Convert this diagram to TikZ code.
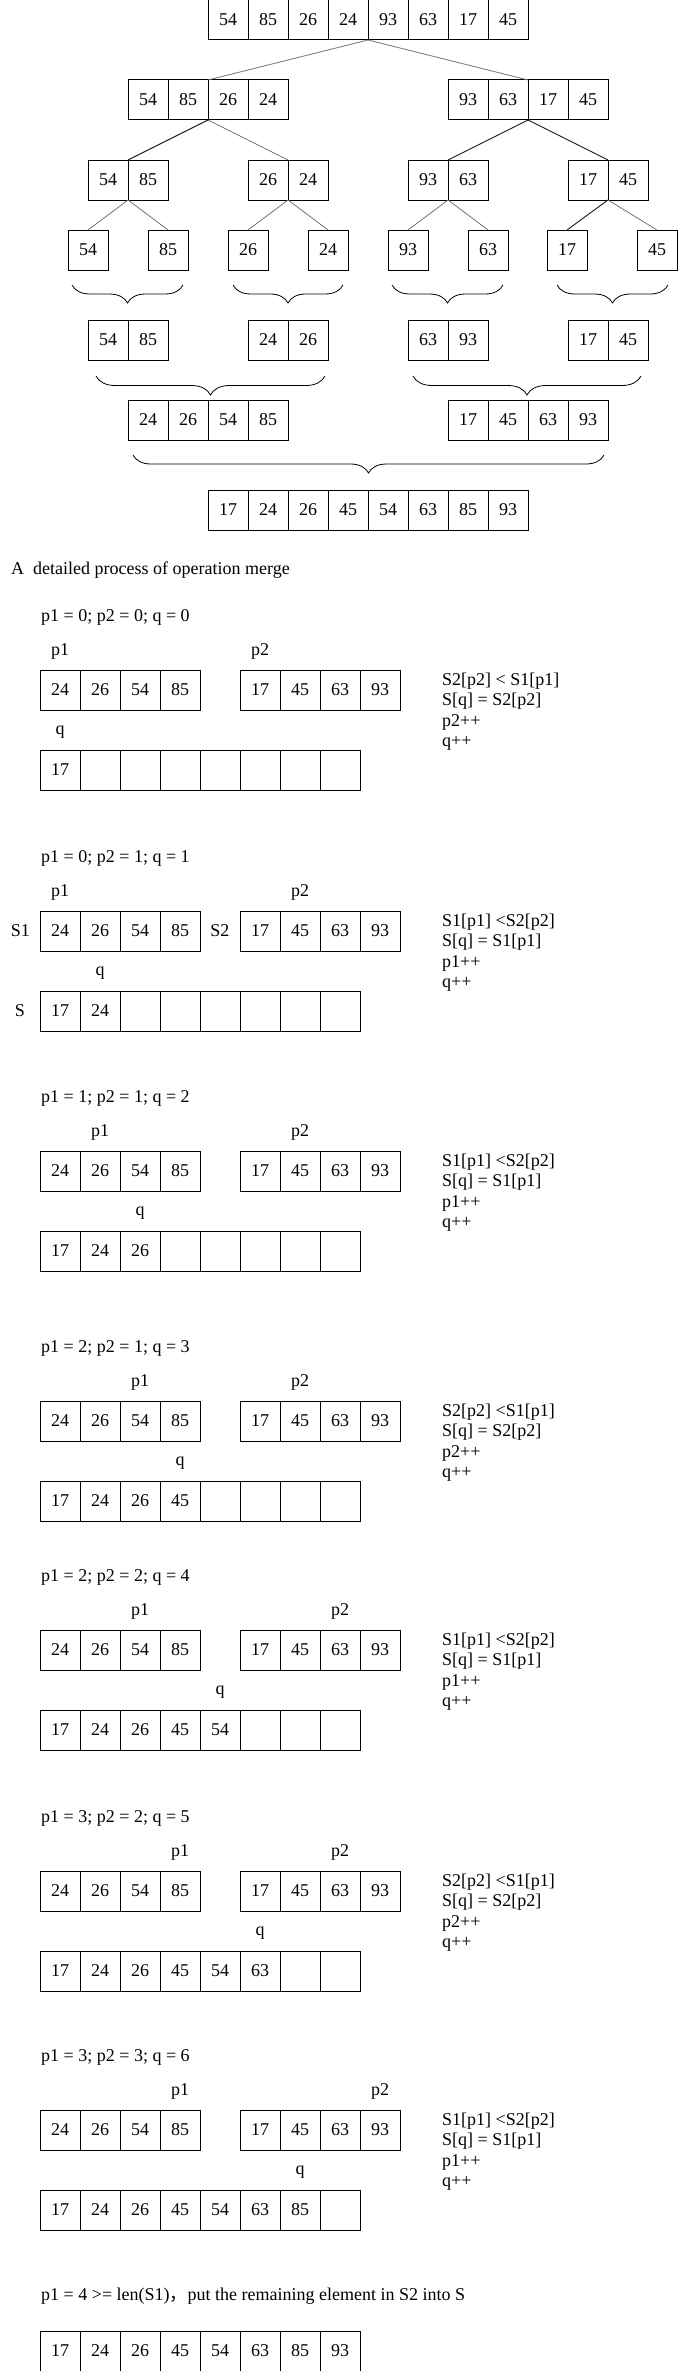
\documentclass[tikz,border=0pt]{standalone}
\usepackage{fontspec}
\setmainfont{Liberation Serif}
\newfontfamily\cjk{Noto Sans CJK SC}
\usetikzlibrary{positioning,decorations.pathreplacing}

\tikzset{
  cell/.style={draw, line width=1pt, minimum width=40pt, minimum height=40pt,
    inner sep=0pt, outer sep=0pt, anchor=north west},
  ptr/.style={inner sep=0pt},
  tag/.style={inner sep=0pt},
  title/.style={anchor=base west, inner sep=0pt},
  rule/.style={anchor=base west, inner sep=0pt},
  edge/.style={draw=black!55, line width=0.8pt},
  dark edge/.style={draw=black!90, line width=0.9pt},
  merge brace/.style={decorate, decoration={brace, mirror, amplitude=#1}, line width=0.8pt},
  merge brace/.default=18pt
}

% a row of cells: name, x, y, values
\newcommand\putcells[4]{%
  \foreach \v [count=\i] in {#4}
    \node[cell] (#1\i) at ({#2+40*(\i-1)},{#3}) {\v};
}
% one merge step: name, top, p1 cell, p2 cell, q cell, values of S
\newcommand\mergestep[6]{%
  \putcells{#1a}{40}{#2}{24,26,54,85}
  \putcells{#1b}{240}{#2}{17,45,63,93}
  \putcells{#1s}{40}{#2+80}{#6}
  \node[ptr, above=10pt of #1a#3] (#1p) {p1};
  \node[ptr, above=10pt of #1b#4] (#1r) {p2};
  \node[ptr, above=11pt of #1s#5] (#1q) {q};
}
% the four lines of text beside a step: name, top, lines
\newcommand\steprules[6]{%
  \node[rule] (#1l1) at (442,{#2+15}) {#3};
  \node[rule] (#1l2) at (442,{#2+35.5}) {#4};
  \node[rule] (#1l3) at (442,{#2+56}) {#5};
  \node[rule] (#1l4) at (442,{#2+76.5}) {#6};
}

\begin{document}
\begin{tikzpicture}[x=1pt, y=-1pt, node distance=10pt,
  every node/.style={font=\fontsize{18}{20.5}\selectfont, inner sep=0pt}]
  \useasboundingbox (0,0) rectangle (679,2371);
  % split
  \putcells{t}{208}{0}{54,85,26,24,93,63,17,45}
  \putcells{ha}{128}{80}{54,85,26,24}
  \putcells{hb}{448}{80}{93,63,17,45}
  \putcells{qa}{88}{160}{54,85}
  \putcells{qb}{248}{160}{26,24}
  \putcells{qc}{408}{160}{93,63}
  \putcells{qd}{568}{160}{17,45}
  \node[cell] (sa) at (68,230) {54};
  \node[cell] (sb) at (148,230) {85};
  \node[cell] (sc) at (228,230) {26};
  \node[cell] (sd) at (308,230) {24};
  \node[cell] (se) at (388,230) {93};
  \node[cell] (sf) at (468,230) {63};
  \node[cell] (sg) at (547,230) {17};
  \node[cell] (sh) at (637,230) {45};
  % draw edges
  \draw[edge] (t4.south east) -- (ha2.north east);
  \draw[edge] (t4.south east) -- (hb2.north east);
  \draw[dark edge] (ha2.south east) -- (qa1.north east);
  \draw[edge] (ha2.south east) -- (qb1.north east);
  \draw[dark edge] (hb2.south east) -- (qc1.north east);
  \draw[dark edge] (hb2.south east) -- (qd1.north east);
  \draw[edge] (qa1.south east) -- (sa.north);
  \draw[edge] (qa1.south east) -- (sb.north);
  \draw[edge] (qb1.south east) -- (sc.north);
  \draw[edge] (qb1.south east) -- (sd.north);
  \draw[edge] (qc1.south east) -- (se.north);
  \draw[edge] (qc1.south east) -- (sf.north);
  \draw[dark edge] (qd1.south east) -- (sg.north);
  \draw[edge] (qd1.south east) -- (sh.north);
  % merge
  \draw[merge brace] (72,285) -- (183,285);
  \draw[merge brace] (233,285) -- (343,285);
  \draw[merge brace] (392,285) -- (503,285);
  \draw[merge brace] (557,285) -- (668,285);
  \putcells{ra}{88}{320}{54,85}
  \putcells{rb}{248}{320}{24,26}
  \putcells{rc}{408}{320}{63,93}
  \putcells{rd}{568}{320}{17,45}
  \draw[merge brace=19pt] (96,376) -- (325,376);
  \draw[merge brace=19pt] (413,376) -- (641,376);
  \putcells{ma}{128}{400}{24,26,54,85}
  \putcells{mb}{448}{400}{17,45,63,93}
  \draw[merge brace] (133,455) -- (604,455);
  \putcells{f}{208}{490}{17,24,26,45,54,63,85,93}
  \node[title] (heading) at (11,574.5) {A\ \ detailed process of operation merge};
  % steps of the merge
  \node[title] (m1t) at (41,621.5) {p1 = 0; p2 = 0; q = 0};
  \mergestep{m1}{670}{1}{1}{1}{17,{},{},{},{},{},{},{}}
  \steprules{m1}{670}{S2[p2] < S1[p1]}{S[q] = S2[p2]}{p2++}{q++}
  \node[title] (m2t) at (41,862.5) {p1 = 0; p2 = 1; q = 1};
  \mergestep{m2}{911}{1}{2}{2}{17,24,{},{},{},{},{},{}}
  \steprules{m2}{911}{S1[p1] <S2[p2]}{S[q] = S1[p1]}{p1++}{q++}
  \node[tag, left=10pt of m2a1] (m2n1) {S1};
  \node[tag, left=10.5pt of m2b1] (m2n2) {S2};
  \node[tag, left=15pt of m2s1] (m2n3) {S};
  \node[title] (m3t) at (41,1102.5) {p1 = 1; p2 = 1; q = 2};
  \mergestep{m3}{1151}{2}{2}{3}{17,24,26,{},{},{},{},{}}
  \steprules{m3}{1151}{S1[p1] <S2[p2]}{S[q] = S1[p1]}{p1++}{q++}
  \node[title] (m4t) at (41,1352.5) {p1 = 2; p2 = 1; q = 3};
  \mergestep{m4}{1401}{3}{2}{4}{17,24,26,45,{},{},{},{}}
  \steprules{m4}{1401}{S2[p2] <S1[p1]}{S[q] = S2[p2]}{p2++}{q++}
  \node[title] (m5t) at (41,1581.5) {p1 = 2; p2 = 2; q = 4};
  \mergestep{m5}{1630}{3}{3}{5}{17,24,26,45,54,{},{},{}}
  \steprules{m5}{1630}{S1[p1] <S2[p2]}{S[q] = S1[p1]}{p1++}{q++}
  \node[title] (m6t) at (41,1822.5) {p1 = 3; p2 = 2; q = 5};
  \mergestep{m6}{1871}{4}{3}{6}{17,24,26,45,54,63,{},{}}
  \steprules{m6}{1871}{S2[p2] <S1[p1]}{S[q] = S2[p2]}{p2++}{q++}
  \node[title] (m7t) at (41,2061.5) {p1 = 3; p2 = 3; q = 6};
  \mergestep{m7}{2110}{4}{4}{7}{17,24,26,45,54,63,85,{}}
  \steprules{m7}{2110}{S1[p1] <S2[p2]}{S[q] = S1[p1]}{p1++}{q++}
  % the rest of S2
  \node[title] (m8t) at (41,2300) {p1 = 4 >= len(S1){\cjk ，}put the remaining element in S2 into S};
  \putcells{m8s}{40}{2331}{17,24,26,45,54,63,85,93}
\end{tikzpicture}
\end{document}
